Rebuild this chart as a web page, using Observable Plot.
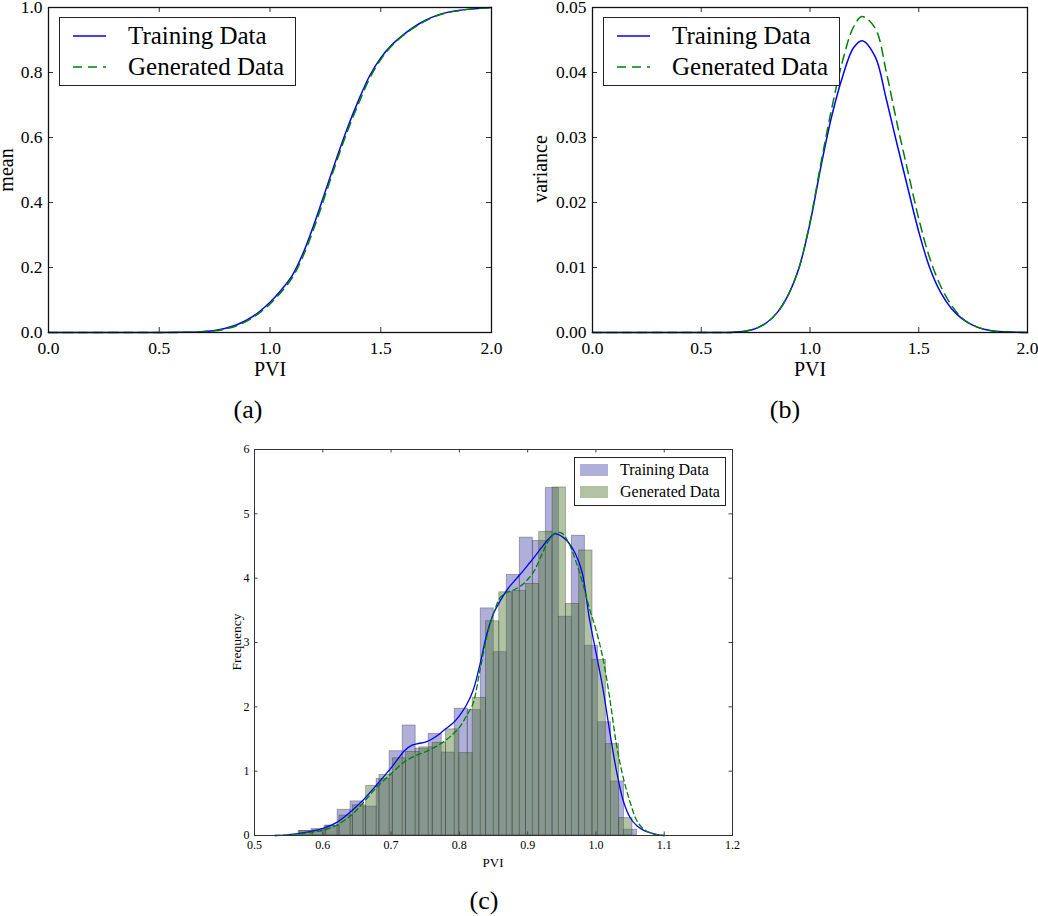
<!DOCTYPE html>
<html><head><meta charset="utf-8">
<script src="https://cdn.jsdelivr.net/npm/d3@7"></script>
<script src="https://cdn.jsdelivr.net/npm/@observablehq/plot@0.6"></script>
<style>
html,body{margin:0;padding:0;background:#fff;}
body{width:1038px;height:916px;position:relative;overflow:hidden;font-family:"Liberation Serif",serif;color:#000;}
.panel{position:absolute;}
.lab{position:absolute;white-space:nowrap;transform:translate(-50%,-50%);line-height:1;}
.rot{transform:translate(-50%,-50%) rotate(-90deg);}
.legend{position:absolute;background:#fff;border:1.5px solid #222;box-sizing:border-box;}
.legend .row{position:absolute;white-space:nowrap;line-height:1;}
</style></head><body>
<div id="pa" class="panel" style="left:0;top:0"></div>
<div id="pb" class="panel" style="left:518px;top:0"></div>
<div id="pc" class="panel" style="left:200px;top:440px"></div>

<div class="lab" style="left:270px;top:369px;font-size:20px">PVI</div>
<div class="lab rot" style="left:6px;top:170px;font-size:20px">mean</div>
<div class="lab" style="left:248px;top:410px;font-size:26px">(a)</div>

<div class="lab" style="left:810px;top:369px;font-size:20px">PVI</div>
<div class="lab rot" style="left:540px;top:169px;font-size:20px">variance</div>
<div class="lab" style="left:785px;top:410px;font-size:26px">(b)</div>

<div class="lab" style="left:493px;top:862px;font-size:13px">PVI</div>
<div class="lab rot" style="left:237px;top:642px;font-size:13.5px">Frequency</div>
<div class="lab" style="left:484px;top:901px;font-size:26px">(c)</div>

<script>
// ---------- data: panel (a) mean ----------
const pviMean = [0.0,0.5,0.6,0.65,0.7,0.75,0.8,0.85,0.9,0.95,1.0,1.05,1.1,1.15,1.2,1.25,1.3,1.35,1.4,1.45,1.5,1.55,1.6,1.65,1.7,1.75,1.8,1.85,1.9,1.95,2.0];
const meanTrain = [0,0,0.0005,0.001,0.003,0.006,0.013,0.024,0.040,0.063,0.093,0.13,0.175,0.245,0.335,0.435,0.535,0.63,0.715,0.79,0.845,0.885,0.915,0.94,0.96,0.975,0.985,0.991,0.995,0.998,1.0];
const meanGen = [0,0,0.0004,0.0008,0.0025,0.005,0.011,0.021,0.037,0.059,0.088,0.124,0.168,0.236,0.324,0.424,0.525,0.62,0.705,0.782,0.84,0.882,0.913,0.938,0.958,0.974,0.984,0.99,0.995,0.998,1.0];
const meanXTicks = [0,0.5,1,1.5,2];
const meanYTicks = [0,0.2,0.4,0.6,0.8,1.0];

// ---------- data: panel (b) variance ----------
const pviVar = [0.0,0.5,0.6,0.65,0.7,0.75,0.8,0.85,0.9,0.95,1.0,1.05,1.1,1.15,1.2,1.24,1.3,1.35,1.4,1.45,1.5,1.55,1.6,1.65,1.7,1.75,1.8,1.85,1.9,1.95,2.0];
const varTrain = [0,0,0,0.00005,0.0002,0.0006,0.0015,0.0031,0.0058,0.0100,0.0168,0.0255,0.0333,0.0394,0.0438,0.0449,0.0424,0.0360,0.0290,0.0222,0.0155,0.0100,0.0062,0.0037,0.0021,0.0011,0.0005,0.0002,0.0001,0.00003,0];
const varGen = [0,0,0,0.00005,0.0002,0.0006,0.0015,0.0031,0.0058,0.0100,0.0170,0.0260,0.0345,0.0418,0.0470,0.0486,0.0468,0.0402,0.0322,0.0248,0.0175,0.0115,0.0072,0.0042,0.0022,0.0011,0.0005,0.0002,0.0001,0.00003,0];
const varXTicks = [0,0.5,1,1.5,2];
const varYTicks = [0,0.01,0.02,0.03,0.04,0.05];

// ---------- data: panel (c) histogram ----------
const trainEdges = [0.5645,0.5836,0.6026,0.6217,0.6407,0.6598,0.6789,0.6979,0.7170,0.7360,0.7551,0.7742,0.7932,0.8123,0.8313,0.8504,0.8694,0.8885,0.9076,0.9266,0.9457,0.9647,0.9838,1.0029,1.0219,1.0410,1.0600];
const trainFreq = [0.07,0.10,0.15,0.40,0.53,0.45,0.88,1.31,1.71,1.35,1.58,1.29,1.97,1.95,3.53,2.85,4.05,4.63,4.58,5.40,3.40,4.66,2.95,1.76,0.84,0.09];
const genEdges = [0.5660,0.5855,0.6050,0.6245,0.6440,0.6635,0.6830,0.7025,0.7220,0.7415,0.7610,0.7805,0.8000,0.8195,0.8390,0.8585,0.8780,0.8975,0.9170,0.9365,0.9560,0.9755,0.9950,1.0145,1.0340,1.0535];
const genFreq = [0.07,0.08,0.155,0.31,0.47,0.77,0.94,1.20,1.30,1.37,1.44,1.65,1.28,2.14,3.33,3.78,3.80,3.91,4.72,5.41,3.60,4.43,2.73,1.42,0.27];
const kdeX = [0.53,0.55,0.57,0.59,0.60,0.62,0.64,0.65,0.66,0.68,0.70,0.72,0.73,0.74,0.75,0.76,0.77,0.78,0.79,0.80,0.81,0.82,0.83,0.84,0.85,0.86,0.87,0.88,0.89,0.90,0.91,0.92,0.93,0.94,0.95,0.96,0.97,0.98,0.99,1.00,1.01,1.02,1.03,1.04,1.05,1.06,1.07,1.08,1.09,1.10];
const kdeTrain = [0,0.01,0.04,0.08,0.11,0.2,0.36,0.46,0.56,0.80,1.05,1.32,1.40,1.43,1.45,1.50,1.57,1.66,1.74,1.86,2.02,2.25,2.65,3.12,3.45,3.65,3.82,3.95,4.07,4.2,4.33,4.47,4.6,4.69,4.65,4.55,4.38,4.08,3.40,2.85,2.3,1.63,1.01,0.54,0.28,0.15,0.08,0.04,0.015,0];
const kdeGen = [0,0.01,0.03,0.06,0.08,0.16,0.30,0.40,0.52,0.76,0.96,1.15,1.21,1.26,1.30,1.35,1.41,1.48,1.57,1.68,1.85,2.05,2.56,3.08,3.45,3.70,3.78,3.82,3.88,3.98,4.12,4.35,4.57,4.70,4.70,4.55,4.28,3.95,3.55,3.2,2.77,2.15,1.42,0.9,0.52,0.23,0.1,0.04,0.01,0];
const histXTicks = [0.5,0.6,0.7,0.8,0.9,1.0,1.1,1.2];
const histYTicks = [0,1,2,3,4,5,6];

const seriesNames = ["Training Data","Generated Data"];
const BLUE = "#0000ff", GREEN = "#008000";
const TRAIN_FILL = "rgb(78,78,172)", GEN_FILL = "rgb(84,122,50)", HIST_OP = 0.45;
const FONT = "Liberation Serif, serif";

function inwardTicks(xt, yt, xd, yd, len, color) {
  return [
    Plot.ruleX(xt, {x: d => d, y1: yd[0], y2: yd[0], insetTop: -len, stroke: color}),
    Plot.ruleX(xt, {x: d => d, y1: yd[1], y2: yd[1], insetBottom: -len, stroke: color}),
    Plot.ruleY(yt, {y: d => d, x1: xd[0], x2: xd[0], insetRight: -len, stroke: color}),
    Plot.ruleY(yt, {y: d => d, x1: xd[1], x2: xd[1], insetLeft: -len, stroke: color})
  ];
}

function curvePanel({xs, ys1, ys2, xt, yt, yDomain, fmtY, width, ml, mr, dash}) {
  const t1 = xs.map((x, i) => ({x, y: ys1[i]}));
  const t2 = xs.map((x, i) => ({x, y: ys2[i]}));
  return Plot.plot({
    width, height: 390,
    marginLeft: ml, marginRight: mr, marginTop: 7, marginBottom: 58,
    x: {domain: [0, 2]},
    y: {domain: yDomain},
    style: {fontFamily: FONT, fontSize: "17.5px", color: "#000", background: "transparent", overflow: "visible"},
    marks: [
      Plot.line(t1, {x: "x", y: "y", stroke: BLUE, strokeWidth: 1.5, curve: "catmull-rom"}),
      Plot.line(t2, {x: "x", y: "y", stroke: GREEN, strokeWidth: 1.5, strokeDasharray: dash, curve: "catmull-rom"}),
      ...inwardTicks(xt, yt, [0, 2], yDomain, 5, "#333"),
      Plot.frame({stroke: "#111", strokeWidth: 1.3}),
      Plot.axisX(xt, {tickSize: 0, tickPadding: 9, tickFormat: d3.format(".1f"), label: null, fontSize: 17.5}),
      Plot.axisY(yt, {tickSize: 0, tickPadding: 6, tickFormat: d3.format(fmtY), label: null, fontSize: 17.5})
    ]
  });
}

document.getElementById("pa").append(curvePanel({
  xs: pviMean, ys1: meanTrain, ys2: meanGen, xt: meanXTicks, yt: meanYTicks,
  yDomain: [0, 1], fmtY: ".1f", width: 519, ml: 48, mr: 28, dash: "9,6"
}));
document.getElementById("pb").append(curvePanel({
  xs: pviVar, ys1: varTrain, ys2: varGen, xt: varXTicks, yt: varYTicks,
  yDomain: [0, 0.05], fmtY: ".2f", width: 520, ml: 74, mr: 11, dash: "9,6"
}));

// histogram panel
const trainBars = trainFreq.map((f, i) => ({x1: trainEdges[i], x2: trainEdges[i + 1], y: f}));
const genBars = genFreq.map((f, i) => ({x1: genEdges[i], x2: genEdges[i + 1], y: f}));
const kdeT = kdeX.map((x, i) => ({x, y: kdeTrain[i]}));
const kdeG = kdeX.map((x, i) => ({x, y: kdeGen[i]}));

document.getElementById("pc").append(Plot.plot({
  width: 560, height: 420,
  marginLeft: 54, marginRight: 28, marginTop: 9, marginBottom: 25,
  x: {domain: [0.5, 1.2]},
  y: {domain: [0, 6]},
  style: {fontFamily: FONT, fontSize: "12px", color: "#000", background: "transparent", overflow: "visible"},
  marks: [
    Plot.rectY(trainBars, {x1: "x1", x2: "x2", y: "y", fill: TRAIN_FILL, fillOpacity: HIST_OP, stroke: "#222", strokeOpacity: 0.4, strokeWidth: 0.8}),
    Plot.rectY(genBars, {x1: "x1", x2: "x2", y: "y", fill: GEN_FILL, fillOpacity: HIST_OP, stroke: "#222", strokeOpacity: 0.4, strokeWidth: 0.8}),
    Plot.line(kdeT, {x: "x", y: "y", stroke: BLUE, strokeWidth: 1.3, curve: "catmull-rom"}),
    Plot.line(kdeG, {x: "x", y: "y", stroke: GREEN, strokeWidth: 1.3, strokeDasharray: "5,3.5", curve: "catmull-rom"}),
    ...inwardTicks(histXTicks, histYTicks, [0.5, 1.2], [0, 6], 3.5, "#444"),
    Plot.frame({stroke: "#333", strokeWidth: 1}),
    Plot.axisX(histXTicks, {tickSize: 0, tickPadding: 5, tickFormat: d3.format(".1f"), label: null, fontSize: 12}),
    Plot.axisY(histYTicks, {tickSize: 0, tickPadding: 5, tickFormat: d3.format("d"), label: null, fontSize: 12})
  ]
}));

// legends
function lineLegend(left, top, dash) {
  const box = document.createElement("div");
  box.className = "legend";
  Object.assign(box.style, {left: left + "px", top: top + "px", width: "237px", height: "69px"});
  const rows = [{name: seriesNames[0], color: BLUE, dash: null, y: 18}, {name: seriesNames[1], color: GREEN, dash, y: 49}];
  rows.forEach(r => {
    const s = document.createElementNS("http://www.w3.org/2000/svg", "svg");
    s.setAttribute("width", 34); s.setAttribute("height", 6);
    s.style.position = "absolute"; s.style.left = "13px"; s.style.top = (r.y - 3) + "px";
    const ln = document.createElementNS("http://www.w3.org/2000/svg", "line");
    ln.setAttribute("x1", 0); ln.setAttribute("x2", 33); ln.setAttribute("y1", 3); ln.setAttribute("y2", 3);
    ln.setAttribute("stroke", r.color); ln.setAttribute("stroke-width", 1.5);
    if (r.dash) ln.setAttribute("stroke-dasharray", r.dash);
    s.append(ln); box.append(s);
    const t = document.createElement("div");
    t.className = "row"; t.textContent = r.name;
    Object.assign(t.style, {left: "68px", top: (r.y - 13) + "px", fontSize: "25px"});
    box.append(t);
  });
  document.body.append(box);
}
lineLegend(59, 17, "9,6");
lineLegend(603, 17, "9,6");

(function histLegend() {
  const box = document.createElement("div");
  box.className = "legend";
  Object.assign(box.style, {left: "574px", top: "457px", width: "152px", height: "49px", borderWidth: "1px"});
  const rows = [{name: seriesNames[0], fill: TRAIN_FILL, y: 12}, {name: seriesNames[1], fill: GEN_FILL, y: 34}];
  rows.forEach(r => {
    const p = document.createElement("div");
    Object.assign(p.style, {position: "absolute", left: "5px", top: (r.y - 6) + "px", width: "28px", height: "12px", background: r.fill, opacity: HIST_OP});
    box.append(p);
    const t = document.createElement("div");
    t.className = "row"; t.textContent = r.name;
    Object.assign(t.style, {left: "45px", top: (r.y - 8) + "px", fontSize: "16px"});
    box.append(t);
  });
  document.body.append(box);
})();
</script>
</body></html>
